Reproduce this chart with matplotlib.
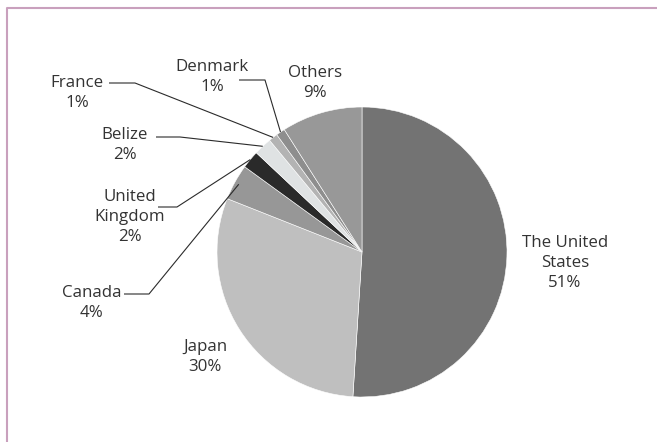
import numpy as np
import matplotlib
matplotlib.use("Agg")
import matplotlib.pyplot as plt
from matplotlib.lines import Line2D

categories = ["The United\nStates", "Japan", "Canada", "United\nKingdom", "Belize", "France", "Denmark", "Others"]
values = [51, 30, 4, 2, 2, 1, 1, 9]
colors = ["#737373", "#bfbfbf", "#979797", "#2a2a2a", "#dfe2e3", "#b3b3b3", "#8e8e8e", "#989898"]

W, H = 657, 442
fig = plt.figure(figsize=(W / 100, H / 100), dpi=100)
ax = fig.add_axes([0, 0, 1, 1])

cx, cy, r = 362, H - 252, 145
wedges, _ = ax.pie(values, colors=colors, startangle=90, counterclock=False,
                   center=(cx, cy), radius=r,
                   wedgeprops=dict(edgecolor="white", linewidth=0.4))
ax.set_xlim(0, W)
ax.set_ylim(0, H)
ax.set_aspect("equal")
ax.axis("off")

plt.rcParams["font.family"] = ["Open Sans", "DejaVu Sans"]
txt_color = "#333333"
fs = 12.2

# label positions (image px, y from top), and leader line start (text end) + elbow
label_pos = {
    "The United\nStates": (565, 263),
    "Japan": (205, 357),
    "Canada": (92, 303),
    "United\nKingdom": (130, 217),
    "Belize": (125, 145),
    "France": (77, 93),
    "Denmark": (212, 77),
    "Others": (315, 83),
}
leaders = {
    "Canada": ((124, 294), (149, 294), 0.97),
    "United\nKingdom": ((158, 207), (177, 207), 1.0),
    "Belize": ((156, 137), (180, 137), 1.0),
    "France": ((109, 83), (135, 83), 1.0),
    "Denmark": ((239, 80), (265, 80), 1.0),
}

for w, cat, v in zip(wedges, categories, values):
    x, y = label_pos[cat]
    ax.text(x, H - y, f"{cat}\n{v}%", ha="center", va="center", fontsize=fs,
            color=txt_color, linespacing=1.32)
    if cat in leaders:
        (x0, y0), (x1, y1), frac = leaders[cat]
        mid = np.deg2rad((w.theta1 + w.theta2) / 2)
        ax_ = cx + r * frac * np.cos(mid)
        ay_ = cy + r * frac * np.sin(mid)
        ax.plot([x0, x1, ax_], [H - y0, H - y1, ay_], color="#2b2b2b", lw=0.8,
                solid_capstyle="butt")

# frame border (top and left)
border = "#c9a0bd"
fig.add_artist(Line2D([6.5 / W, 6.5 / W, 1], [0, 1 - 7.5 / H, 1 - 7.5 / H],
                      transform=fig.transFigure, color=border, lw=1.5))

fig.savefig("out.png", dpi=100)
